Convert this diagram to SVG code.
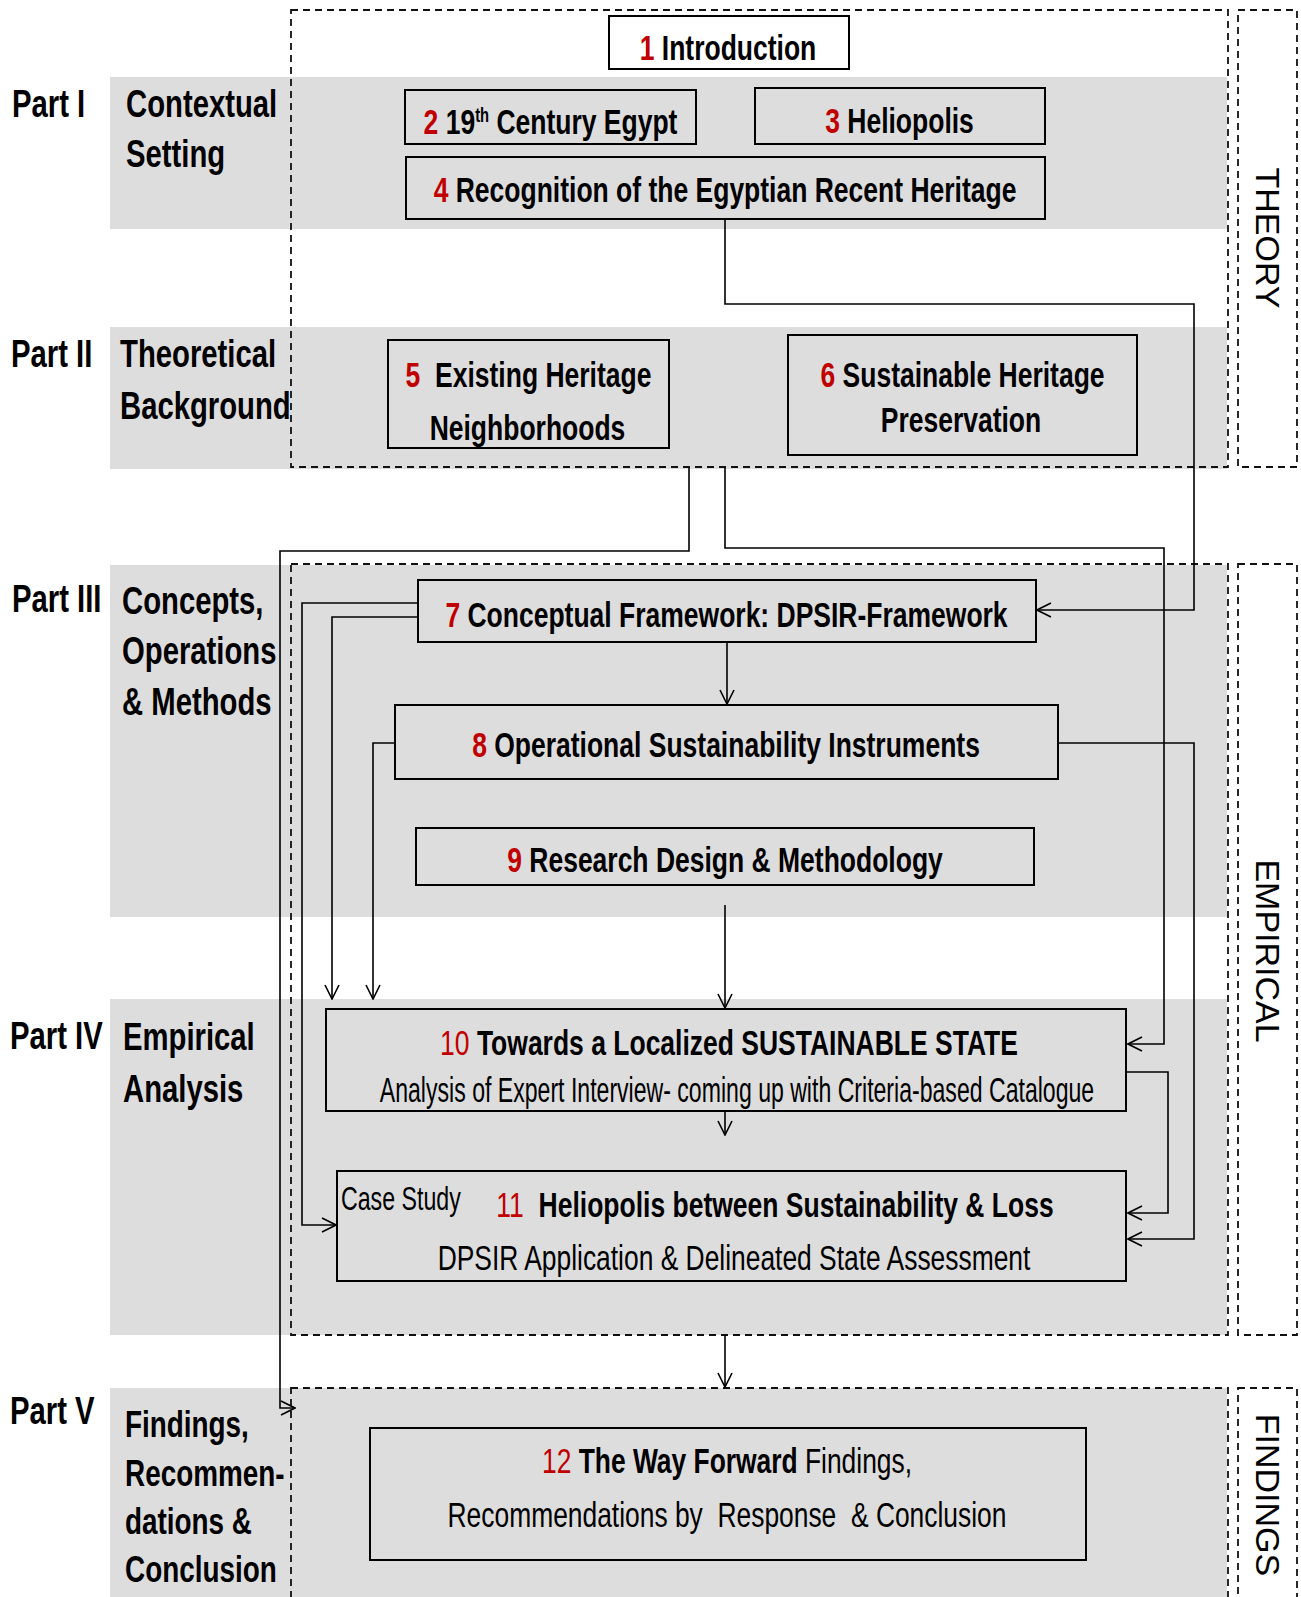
<svg xmlns="http://www.w3.org/2000/svg" width="1301" height="1597" viewBox="0 0 1301 1597">
  <style>
    .band{fill:#DDDDDD}
    .dash{fill:none;stroke:#111;stroke-width:1.8;stroke-dasharray:7 5}
    .box{fill:none;stroke:#000;stroke-width:2}
    .b{font-family:"Liberation Sans",Arial,sans-serif;font-weight:bold;font-size:32.3px;fill:#000}
    .n{font-family:"Liberation Sans",Arial,sans-serif;font-weight:normal;font-size:32.2px;fill:#000}
    .lbl{font-family:"Liberation Sans",Arial,sans-serif;font-weight:bold;font-size:35.7px;fill:#000}
    .lbl.sm{font-size:34px}
    .side{font-family:"Liberation Sans",Arial,sans-serif;font-size:34px;fill:#000}
    .r{fill:#C00000}
    .nw{font-weight:normal}
    .bw{font-weight:bold}
    #connectors path{fill:none;stroke:#000;stroke-width:1.6}
  </style>
  <defs>
    <marker id="arr" viewBox="0 0 16 16" refX="15" refY="8" markerWidth="16" markerHeight="16" markerUnits="userSpaceOnUse" orient="auto">
      <path d="M1,1 L15,8 L1,15" fill="none" stroke="#000" stroke-width="1.6"/>
    </marker>
  </defs>

  <rect width="1301" height="1597" fill="#fff"/>

  <!-- part bands -->
  <g id="bands">
    <rect class="band" x="110" y="77" width="1117" height="152"/>
    <rect class="band" x="110" y="327" width="1117" height="142"/>
    <rect class="band" x="110" y="565" width="1117" height="352"/>
    <rect class="band" x="110" y="999" width="1117" height="336"/>
    <rect class="band" x="110" y="1388" width="1117" height="220"/>
  </g>

  <!-- dashed frames: theory / empirical / findings -->
  <g id="frames">
    <rect class="dash" x="291" y="10" width="937" height="457"/>
    <rect class="dash" x="1238" y="10" width="59" height="457"/>
    <rect class="dash" x="291" y="564" width="937" height="771"/>
    <rect class="dash" x="1238" y="564" width="59" height="771"/>
    <rect class="dash" x="291" y="1388" width="937" height="230"/>
    <rect class="dash" x="1238" y="1388" width="59" height="230"/>
    <text class="side" transform="translate(1256,238) rotate(90)" text-anchor="middle">THEORY</text>
    <text class="side" transform="translate(1256,951) rotate(90)" text-anchor="middle">EMPIRICAL</text>
    <text class="side" transform="translate(1256,1495) rotate(90)" text-anchor="middle">FINDINGS</text>
  </g>

  <!-- part labels (condensed: narrowed and slightly heightened glyphs) -->
  <g id="labels">
    <text class="lbl" transform="translate(12,117) scale(0.82,1.08)">Part I</text>
    <text class="lbl" transform="translate(126,117) scale(0.82,1.08)">Contextual</text>
    <text class="lbl" transform="translate(126,167) scale(0.82,1.08)">Setting</text>
    <text class="lbl" transform="translate(11,367) scale(0.82,1.08)">Part II</text>
    <text class="lbl" transform="translate(120,367) scale(0.82,1.08)">Theoretical</text>
    <text class="lbl" transform="translate(120,419) scale(0.82,1.08)">Background</text>
    <text class="lbl" transform="translate(12,612) scale(0.82,1.08)">Part III</text>
    <text class="lbl" transform="translate(122,614) scale(0.82,1.08)">Concepts,</text>
    <text class="lbl" transform="translate(122,664) scale(0.82,1.08)">Operations</text>
    <text class="lbl" transform="translate(122,715) scale(0.82,1.08)">&amp; Methods</text>
    <text class="lbl" transform="translate(10,1049) scale(0.82,1.08)">Part IV</text>
    <text class="lbl" transform="translate(123,1050) scale(0.82,1.08)">Empirical</text>
    <text class="lbl" transform="translate(123,1102) scale(0.82,1.08)">Analysis</text>
    <text class="lbl" transform="translate(10,1424) scale(0.82,1.08)">Part V</text>
    <text class="lbl sm" transform="translate(125,1437) scale(0.82,1.08)">Findings,</text>
    <text class="lbl sm" transform="translate(125,1486) scale(0.82,1.08)">Recommen-</text>
    <text class="lbl sm" transform="translate(125,1534) scale(0.82,1.08)">dations &amp;</text>
    <text class="lbl sm" transform="translate(125,1582) scale(0.82,1.08)">Conclusion</text>
  </g>

  <!-- connectors -->
  <g id="connectors">
    <path d="M725,219 V304 H1194 V610 H1037" marker-end="url(#arr)"/>
    <path d="M689,468 V551 H280 V1408 H295" marker-end="url(#arr)"/>
    <path d="M725,468 V548 H1164 V1044 H1128" marker-end="url(#arr)"/>
    <path d="M418,603 H302 V1225 H336" marker-end="url(#arr)"/>
    <path d="M418,617 H332 V999" marker-end="url(#arr)"/>
    <path d="M395,743 H373 V999" marker-end="url(#arr)"/>
    <path d="M727,642 V704" marker-end="url(#arr)"/>
    <path d="M1058,743 H1194 V1239 H1128" marker-end="url(#arr)"/>
    <path d="M725,905 V1008" marker-end="url(#arr)"/>
    <path d="M725,1111 V1135" marker-end="url(#arr)"/>
    <path d="M1126,1072 H1168 V1213 H1128" marker-end="url(#arr)"/>
    <path d="M725,1335 V1387" marker-end="url(#arr)"/>
  </g>

  <!-- chapters -->
  <g id="n1">
    <rect class="box" x="609" y="16" width="240" height="53" style="fill:#fff"/>
    <text class="b" text-anchor="middle" transform="translate(728,60) scale(0.82,1.08)"><tspan class="r">1</tspan> Introduction</text>
  </g>
  <g id="n2">
    <rect class="box" x="405" y="90" width="291" height="54"/>
    <text class="b" text-anchor="middle" transform="translate(550.5,134) scale(0.82,1.08)"><tspan class="r">2</tspan> 19<tspan dy="-11" font-size="18">th</tspan><tspan dy="11"> Century Egypt</tspan></text>
  </g>
  <g id="n3">
    <rect class="box" x="755" y="88" width="290" height="56"/>
    <text class="b" text-anchor="middle" transform="translate(899.5,133) scale(0.82,1.08)"><tspan class="r">3</tspan> Heliopolis</text>
  </g>
  <g id="n4">
    <rect class="box" x="406" y="157" width="639" height="62"/>
    <text class="b" text-anchor="middle" transform="translate(725,202) scale(0.82,1.08)"><tspan class="r">4</tspan> Recognition of the Egyptian Recent Heritage</text>
  </g>
  <g id="n5">
    <rect class="box" x="388" y="340" width="281" height="108"/>
    <text class="b" text-anchor="middle" xml:space="preserve" transform="translate(528.5,387) scale(0.82,1.08)"><tspan class="r">5</tspan>  Existing Heritage</text>
    <text class="b" text-anchor="middle" transform="translate(527.5,440) scale(0.82,1.08)">Neighborhoods</text>
  </g>
  <g id="n6">
    <rect class="box" x="788" y="335" width="349" height="120"/>
    <text class="b" text-anchor="middle" transform="translate(962.5,387) scale(0.82,1.08)"><tspan class="r">6</tspan> Sustainable Heritage</text>
    <text class="b" text-anchor="middle" transform="translate(961,432) scale(0.82,1.08)">Preservation</text>
  </g>
  <g id="n7">
    <rect class="box" x="418" y="580" width="618" height="62"/>
    <text class="b" text-anchor="middle" transform="translate(726.5,627) scale(0.82,1.08)"><tspan class="r">7</tspan> Conceptual Framework: DPSIR-Framework</text>
  </g>
  <g id="n8">
    <rect class="box" x="395" y="705" width="663" height="74"/>
    <text class="b" text-anchor="middle" transform="translate(726,757) scale(0.82,1.08)"><tspan class="r">8</tspan> Operational Sustainability Instruments</text>
  </g>
  <g id="n9">
    <rect class="box" x="416" y="828" width="618" height="57"/>
    <text class="b" text-anchor="middle" transform="translate(725,872) scale(0.82,1.08)"><tspan class="r">9</tspan> Research Design &amp; Methodology</text>
  </g>
  <g id="n10">
    <rect class="box" x="326" y="1009" width="800" height="102"/>
    <text class="b" text-anchor="middle" transform="translate(729,1055) scale(0.82,1.08)"><tspan class="r nw">10</tspan> Towards a Localized SUSTAINABLE STATE</text>
    <text class="n" text-anchor="middle" transform="translate(737,1102) scale(0.717,1.08)">Analysis of Expert Interview- coming up with Criteria-based Catalogue</text>
  </g>
  <g id="n11">
    <rect class="box" x="337" y="1171" width="789" height="110"/>
    <text class="n" transform="translate(341,1210) scale(0.72,1.05)">Case Study</text>
    <text class="b" text-anchor="middle" xml:space="preserve" transform="translate(775,1217) scale(0.82,1.08)"><tspan class="r nw">11</tspan>  Heliopolis between Sustainability &amp; Loss</text>
    <text class="n" text-anchor="middle" transform="translate(734,1270) scale(0.82,1.08)">DPSIR Application &amp; Delineated State Assessment</text>
  </g>
  <g id="n12">
    <rect class="box" x="370" y="1428" width="716" height="132"/>
    <text class="n" text-anchor="middle" transform="translate(727,1473) scale(0.82,1.08)"><tspan class="r">12</tspan> <tspan class="bw">The Way Forward</tspan> Findings,</text>
    <text class="n" text-anchor="middle" xml:space="preserve" transform="translate(727,1527) scale(0.82,1.08)">Recommendations by  Response  &amp; Conclusion</text>
  </g>
</svg>
